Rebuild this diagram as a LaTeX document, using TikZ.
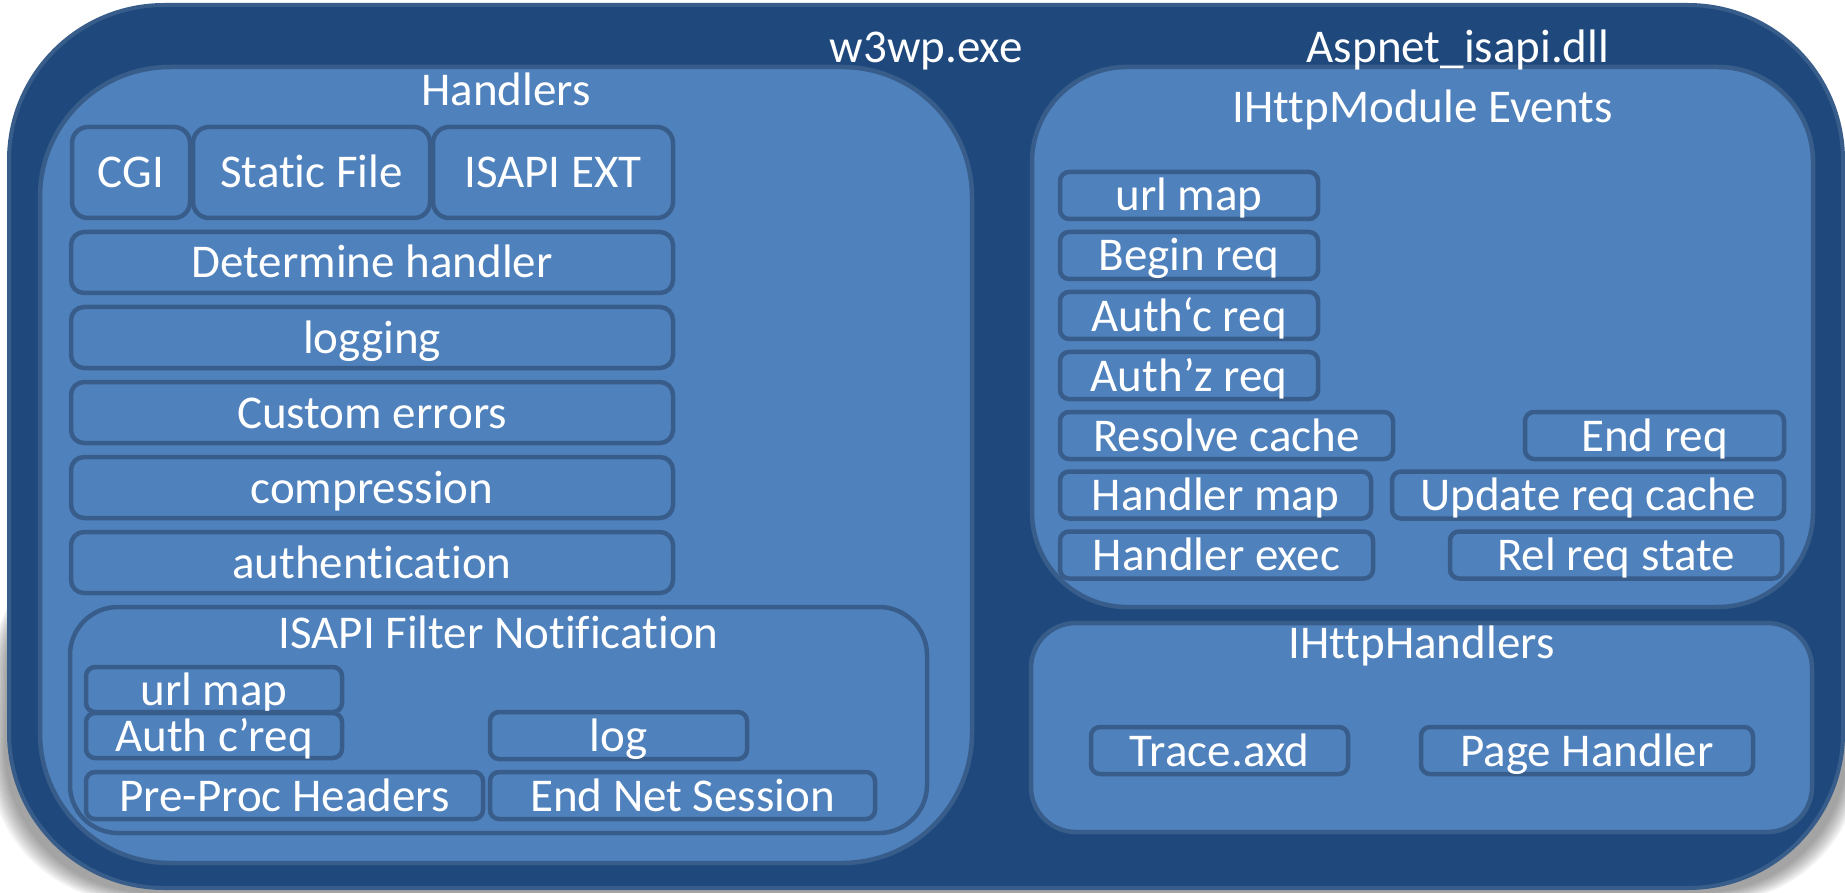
\documentclass[tikz,border=0pt]{standalone}
\usepackage{fontspec}
\setmainfont{Carlito}[Ligatures=NoCommon]
\definecolor{outerfill}{HTML}{1F497D}
\definecolor{boxfill}{HTML}{4F81BD}
\definecolor{boxline}{HTML}{385D8A}
\begin{document}
\begin{tikzpicture}[x=1pt,y=-1pt,
  lbl/.style={text=white,font=\fontsize{47}{56}\selectfont, inner sep=0pt, anchor=base},
  item/.style={draw=boxline, fill=boxfill, line width=4.5pt, text=white,
    font=\fontsize{47}{56}\selectfont, inner sep=0pt, text height=31pt, text depth=0pt,
    rounded corners=#1},
  item/.default=9pt,
  group/.style={draw=boxline, fill=boxfill, line width=4.5pt, rounded corners=#1, inner sep=0pt},
]
\useasboundingbox (0,0) rectangle (1845,893);

% soft shadow
\foreach \k in {0,...,9} {
  \fill[black, opacity=0.045, rounded corners=150pt]
    (10-\k*1.5, 520) -- (1842+\k*1.2, 520) -- (1852+\k*1.5, 893+\k) -- (0-\k*1.8, 893+\k) -- cycle;
}

% outer process box
\node[draw=boxline, fill=outerfill, line width=4pt, rounded corners=155pt,
      minimum width=1834pt, minimum height=883pt, inner sep=0pt] (w3wp) at (926,446.5) {};

% Handlers group
\node[group=130pt, minimum width=932pt, minimum height=796pt] (handlers) at (506,465) {};
\node[lbl] (handlerslabel) at (506,106) {Handlers};

\node[item=16pt, minimum width=118pt, minimum height=91pt] (cgi) at (131,172.5) {CGI};
\node[item=16pt, minimum width=237pt, minimum height=91pt] (static) at (311.5,172.5) {Static File};
\node[item=16pt, minimum width=240pt, minimum height=91pt] (isapiext) at (553,172.5) {ISAPI EXT};
\node[item=13pt, minimum width=602pt, minimum height=61pt] (determine) at (372,262.5) {Determine handler};
\node[item=13pt, minimum width=602pt, minimum height=61pt] (logging) at (372,337.5) {logging};
\node[item=13pt, minimum width=602pt, minimum height=61pt] (customerr) at (372,412.5) {Custom errors};
\node[item=13pt, minimum width=602pt, minimum height=61pt] (compression) at (372,487.5) {compression};
\node[item=13pt, minimum width=602pt, minimum height=61pt] (authentication) at (372,562.5) {authentication};

% ISAPI Filter Notification group
\node[group=48pt, minimum width=857pt, minimum height=226pt] (filter) at (498.5,720) {};
\node[lbl] (filterlabel) at (498.5,648) {ISAPI Filter Notification};
\node[item, minimum width=256pt, minimum height=45pt] (furlmap) at (214,689.5) {url map};
\node[item, minimum width=256pt, minimum height=45pt] (fauth) at (214,735.5) {Auth c’req};
\node[item, minimum width=257pt, minimum height=47pt] (flog) at (618.5,735.5) {log};
\node[item, minimum width=397pt, minimum height=47pt] (fpreproc) at (284.5,795.5) {Pre-Proc Headers};
\node[item, minimum width=385pt, minimum height=47pt] (fendnet) at (682.5,795.5) {End Net Session};

% IHttpModule Events group
\node[group=95pt, minimum width=781pt, minimum height=540pt] (modules) at (1422.5,337) {};
\node[lbl] (moduleslabel) at (1422.5,123) {IHttpModule Events};
\node[item, minimum width=258pt, minimum height=47pt] (murlmap) at (1189,195.5) {url map};
\node[item, minimum width=258pt, minimum height=47pt] (mbegin) at (1189,255.5) {Begin req};
\node[item, minimum width=258pt, minimum height=47pt] (mauthc) at (1189,315.5) {Auth‘c req};
\node[item, minimum width=258pt, minimum height=47pt] (mauthz) at (1189,375.5) {Auth’z req};
\node[item, minimum width=333pt, minimum height=47pt] (mresolve) at (1226.5,435.5) {Resolve cache};
\node[item, minimum width=259pt, minimum height=47pt] (mend) at (1654.5,435.5) {End req};
\node[item, minimum width=311pt, minimum height=47pt] (mhmap) at (1215.5,495) {Handler map};
\node[item, minimum width=392pt, minimum height=47pt] (mupdate) at (1588,495) {Update req cache};
\node[item, minimum width=313pt, minimum height=47pt] (mhexec) at (1216.5,555) {Handler exec};
\node[item, minimum width=332pt, minimum height=47pt] (mrel) at (1616,555) {Rel req state};

% IHttpHandlers group
\node[group=45pt, minimum width=781pt, minimum height=209pt] (ihandlers) at (1421.5,727.5) {};
\node[lbl] (ihandlerslabel) at (1421.5,658) {IHttpHandlers};
\node[item, minimum width=257pt, minimum height=47pt] (trace) at (1219.5,750.5) {Trace.axd};
\node[item, minimum width=332pt, minimum height=47pt] (page) at (1587,750.5) {Page Handler};

% process labels (drawn last, on top)
\node[lbl] (w3wplabel) at (926,63) {w3wp.exe};
\node[lbl] (aspnetlabel) at (1458,63) {Aspnet\_isapi.dll};
\end{tikzpicture}
\end{document}
